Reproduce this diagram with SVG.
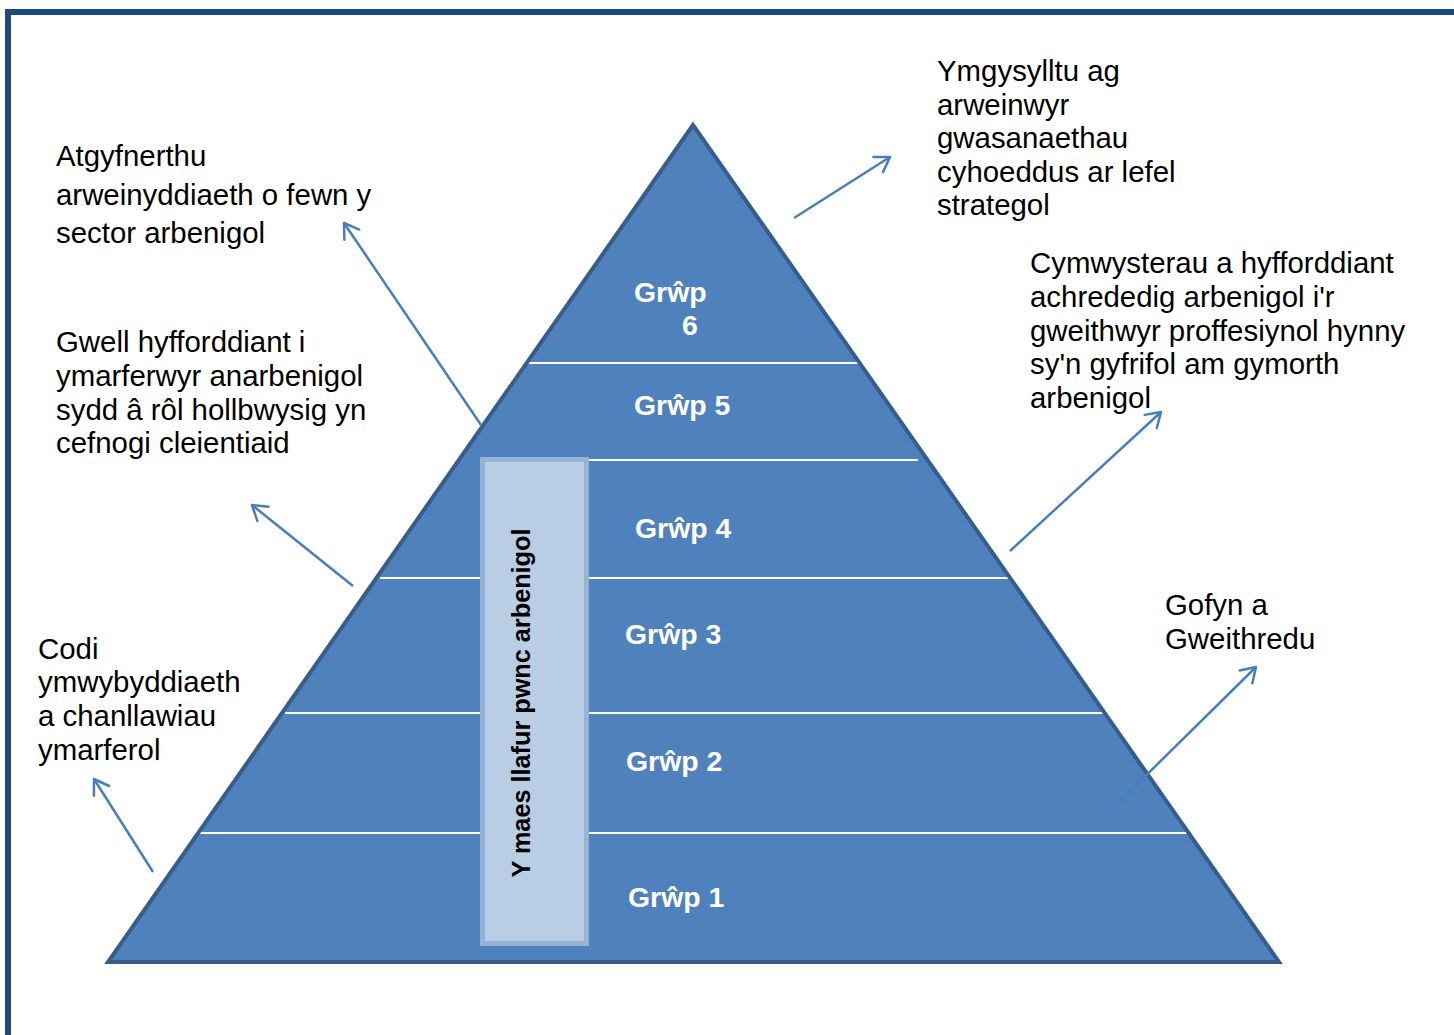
<svg xmlns="http://www.w3.org/2000/svg" width="1454" height="1035" viewBox="0 0 1454 1035">
<style>
.lbl{font-family:"Liberation Sans",Arial,sans-serif;font-size:29.4px;fill:#000}
.grp{font-family:"Liberation Sans",Arial,sans-serif;font-size:28.4px;font-weight:bold;fill:#fff}
.band{stroke:#fff;stroke-width:2}
.conn{stroke:#4A7EBB;stroke-width:2.5;fill:none;marker-end:url(#ah)}
</style>
<defs>
<marker id="ah" markerUnits="userSpaceOnUse" markerWidth="24" markerHeight="24" refX="16" refY="10" orient="auto" viewBox="0 0 24 20">
<path d="M2,1 L16,10 L2,19" fill="none" stroke="#4A7EBB" stroke-width="2.5" stroke-linecap="round" stroke-linejoin="round"/>
</marker>
</defs>
<rect width="1454" height="1035" fill="#fff"/>
<rect id="frame" x="8" y="12" width="1500" height="1100" fill="none" stroke="#1F497D" stroke-width="6"/>

<g id="pyramid">
<polygon points="693,125 108,962 1279,962" fill="#4F81BD"/>
<line class="band" x1="527" y1="363" x2="859" y2="363"/>
<line class="band" x1="480" y1="460" x2="918" y2="460"/>
<line class="band" x1="380" y1="578" x2="1010" y2="578"/>
<line class="band" x1="285" y1="713" x2="1104" y2="713"/>
<line class="band" x1="198" y1="833" x2="1189" y2="833"/>
<polygon points="693,125 108,962 1279,962" fill="none" stroke="#385D8A" stroke-width="4" stroke-linejoin="miter"/>
</g>

<g id="grp6"><text class="grp" x="634" y="302">Grŵp</text><text class="grp" x="682" y="335">6</text></g>
<g id="grp5"><text class="grp" x="634" y="415">Grŵp 5</text></g>
<g id="grp4"><text class="grp" x="635" y="538">Grŵp 4</text></g>
<g id="grp3"><text class="grp" x="625" y="644">Grŵp 3</text></g>
<g id="grp2"><text class="grp" x="626" y="771">Grŵp 2</text></g>
<g id="grp1"><text class="grp" x="628" y="907">Grŵp 1</text></g>

<g id="bar">
<rect x="482.5" y="459.5" width="104" height="484" fill="#B9CDE5" stroke="#95B3D7" stroke-width="5"/>
<text transform="translate(530,703) rotate(-90)" text-anchor="middle" font-family="Liberation Sans, Arial, sans-serif" font-size="25" font-weight="bold" fill="#000" textLength="349" lengthAdjust="spacingAndGlyphs">Y maes llafur pwnc arbenigol</text>
</g>

<g id="connectors">
<line class="conn" x1="794" y1="218" x2="890" y2="157"/>
<line class="conn" x1="481" y1="425" x2="344" y2="223"/>
<line class="conn" x1="353" y1="586" x2="252" y2="505"/>
<line class="conn" x1="153" y1="872" x2="94" y2="779"/>
<line class="conn" x1="1010" y1="551" x2="1161" y2="412"/>
<line class="conn" x1="1115" y1="806" x2="1256" y2="667"/>
</g>

<g id="label-atgyfnerthu">
<text class="lbl" x="56" y="166">Atgyfnerthu</text>
<text class="lbl" x="56" y="205">arweinyddiaeth o fewn y</text>
<text class="lbl" x="56" y="243">sector arbenigol</text>
</g>
<g id="label-gwell">
<text class="lbl" x="56" y="352">Gwell hyfforddiant i</text>
<text class="lbl" x="56" y="386">ymarferwyr anarbenigol</text>
<text class="lbl" x="56" y="420">sydd â rôl hollbwysig yn</text>
<text class="lbl" x="56" y="453">cefnogi cleientiaid</text>
</g>
<g id="label-codi">
<text class="lbl" x="38" y="659">Codi</text>
<text class="lbl" x="38" y="692">ymwybyddiaeth</text>
<text class="lbl" x="38" y="726">a chanllawiau</text>
<text class="lbl" x="38" y="760">ymarferol</text>
</g>
<g id="label-ymgysylltu">
<text class="lbl" x="937" y="81">Ymgysylltu ag</text>
<text class="lbl" x="937" y="115">arweinwyr</text>
<text class="lbl" x="937" y="148">gwasanaethau</text>
<text class="lbl" x="937" y="182">cyhoeddus ar lefel</text>
<text class="lbl" x="937" y="215">strategol</text>
</g>
<g id="label-cymwysterau">
<text class="lbl" x="1030" y="273">Cymwysterau a hyfforddiant</text>
<text class="lbl" x="1030" y="307">achrededig arbenigol i'r</text>
<text class="lbl" x="1030" y="341">gweithwyr proffesiynol hynny</text>
<text class="lbl" x="1030" y="374">sy'n gyfrifol am gymorth</text>
<text class="lbl" x="1030" y="408">arbenigol</text>
</g>
<g id="label-gofyn">
<text class="lbl" x="1165" y="615">Gofyn a</text>
<text class="lbl" x="1165" y="649">Gweithredu</text>
</g>
</svg>
